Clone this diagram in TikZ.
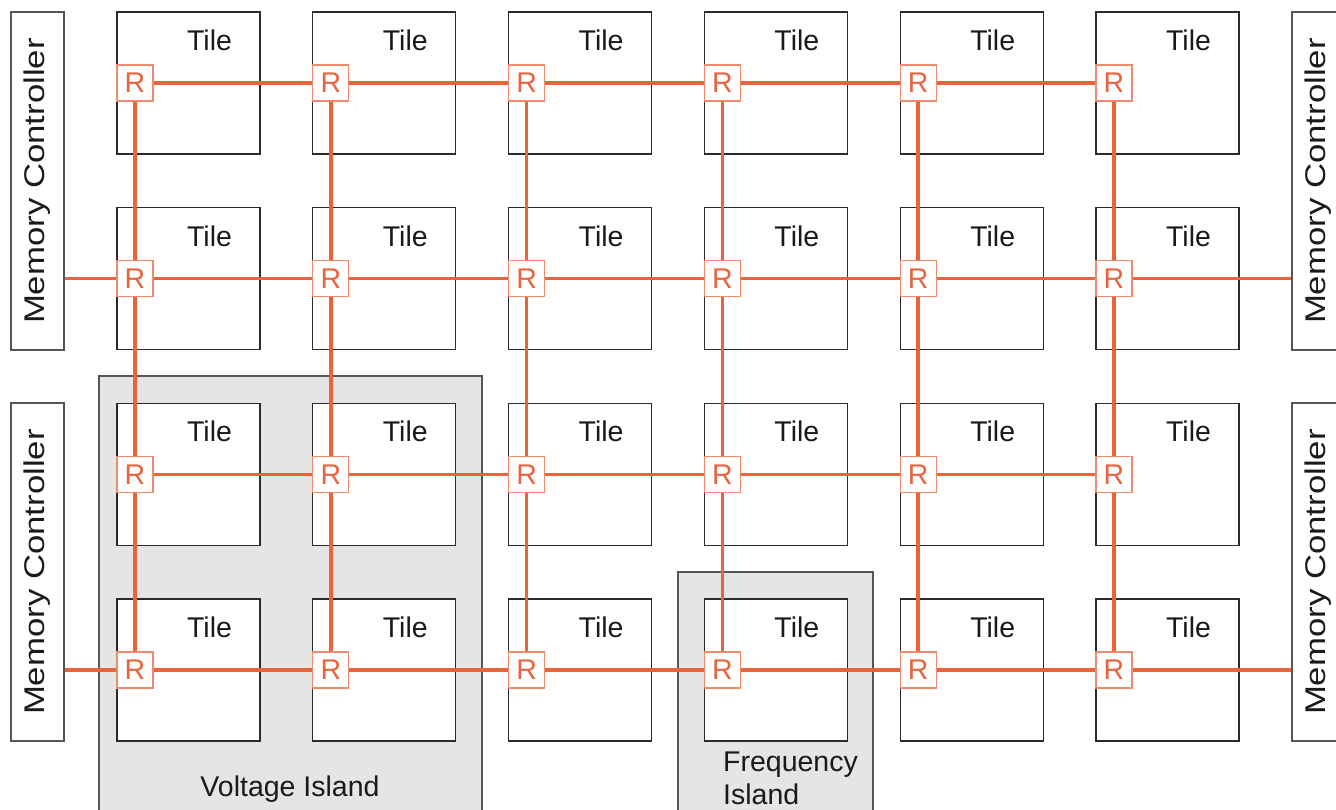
\documentclass[tikz,border=0pt]{standalone}
\usepackage{fontspec}
\setmainfont{Liberation Sans}
\usepackage{graphicx}
\definecolor{linkc}{HTML}{E9633D}
\definecolor{routerb}{HTML}{EF8A6C}
\definecolor{tileb}{HTML}{2A2A2A}
\definecolor{islandf}{HTML}{E5E5E5}
\definecolor{islandb}{HTML}{555555}
\definecolor{textc}{HTML}{1A1A1A}
\tikzset{
  bigfont/.style={font=\fontsize{28.5}{34}\selectfont},
  tilebox/.style={draw=tileb, line width=1.3pt, fill=white, minimum width=143pt, minimum height=142pt, inner sep=0pt},
  tilelabel/.style={bigfont, text=textc, anchor=base, inner sep=0pt},
  router/.style={draw=routerb, line width=1.2pt, fill=white, minimum size=36pt, inner sep=0pt, text=linkc, bigfont},
  link/.style={draw=linkc, line width=3.5pt},
  mcbox/.style={draw=islandb, line width=1.2pt, fill=white, minimum width=53pt, minimum height=338pt, inner sep=0pt, text=textc, bigfont},
  island/.style={draw=islandb, line width=1.2pt, fill=islandf},
  islandlabel/.style={bigfont, text=textc, inner sep=0pt}
}
\begin{document}
\begin{tikzpicture}[x=1pt,y=-1pt]
\useasboundingbox (0,0) rectangle (1336,810);
\clip (0,0) rectangle (1336,810);
\fill[white] (0,0) rectangle (1336,810);
% islands
\draw[island] (99,376) rectangle (482,840);
\draw[island] (678,572) rectangle (873,840);
\node[islandlabel, anchor=base] (vlab) at (290,796) {Voltage Island};
\node[islandlabel, anchor=base west] (flab1) at (723,771.5) {Frequency};
\node[islandlabel, anchor=base west] (flab2) at (723,804) {Island};
% memory controllers
\node[mcbox] (mcL1) at (37.5,181) {\rotatebox{90}{\scalebox{1.22}[1]{Memory Controller}}};
\node[mcbox] (mcL2) at (37.5,572) {\rotatebox{90}{\scalebox{1.22}[1]{Memory Controller}}};
\node[mcbox] (mcR1) at (1318.5,181) {\rotatebox{90}{\scalebox{1.22}[1]{Memory Controller}}};
\node[mcbox] (mcR2) at (1318.5,572) {\rotatebox{90}{\scalebox{1.22}[1]{Memory Controller}}};
% tiles and routers
\foreach \i in {1,...,6}{
  \foreach \j in {1,...,4}{
    \pgfmathsetmacro\xx{117+195.8*(\i-1)}
    \pgfmathsetmacro\yy{12+195.67*(\j-1)}
    \node[tilebox] (t\i\j) at (\xx+71.5,\yy+71) {};
    \node[tilelabel] (tl\i\j) at (\xx+92.5,\yy+38.5) {Tile};
    \node[router] (r\i\j) at (\xx+18,\yy+71) {R};
  }
}
% horizontal links
\foreach \j in {1,...,4}{
  \foreach \i/\k in {1/2,2/3,3/4,4/5,5/6}{
    \draw[link] (r\i\j) -- (r\k\j);
  }
}
% vertical links
\foreach \i in {1,...,6}{
  \foreach \j/\k in {1/2,2/3,3/4}{
    \draw[link] (r\i\j) -- (r\i\k);
  }
}
% links to memory controllers
\draw[link] (mcL1.east |- r12) -- (r12);
\draw[link] (mcL2.east |- r14) -- (r14);
\draw[link] (r62) -- (mcR1.west |- r62);
\draw[link] (r64) -- (mcR2.west |- r64);
\end{tikzpicture}
\end{document}
